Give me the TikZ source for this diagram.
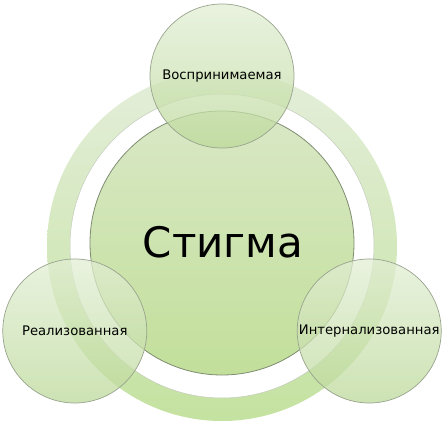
\documentclass[tikz,border=0pt]{standalone}
\usepackage{fontspec}
\setmainfont{DejaVu Sans}
\usetikzlibrary{calc}
\definecolor{ringlight}{HTML}{E4EEDA}
\definecolor{ringdark}{HTML}{C4E2A0}
\definecolor{kernlight}{HTML}{D9E8C6}
\definecolor{kerndark}{HTML}{C2DF9A}
\definecolor{satlight}{HTML}{E2EED4}
\definecolor{satdark}{HTML}{BCD99A}
\definecolor{rand}{HTML}{7E8C70}
\tikzset{
  kern/.style={circle,draw=rand,line width=0.8pt,top color=kernlight,bottom color=kerndark,
    minimum size=264pt,inner sep=0pt},
  satellit/.style={circle,draw=rand!80,line width=0.7pt,top color=satlight,bottom color=satdark,
    fill opacity=0.75,text opacity=1,minimum size=144pt,inner sep=0pt,
    font=\fontsize{13.2}{15}\selectfont}
}
\begin{document}
\begin{tikzpicture}[x=1pt,y=-1pt]
\useasboundingbox (0,0) rectangle (445,427);
\def\rmitte{170}
\coordinate (mitte) at (222,246);
% ring
\shade[top color=ringlight,bottom color=ringdark,even odd rule]
  (mitte) circle (175) (mitte) circle (152);
\draw[rand!45,line width=0.5pt] (mitte) circle (152);
% center
\node[kern] (stigma) at ($(mitte)+(0,-3)$) {};
\node (titel) at ($(mitte)+(1,-4)$) {\fontsize{42}{42}\selectfont Стигма};
% satellites
\node[satellit] (vospr) at ($(mitte)+(0,-\rmitte)$) {Воспринимаемая};
\node[satellit] (real) at ($(mitte)+({-\rmitte*cos(30)},{\rmitte*sin(30)})$) {Реализованная};
\node[satellit] (intern) at ($(mitte)+({\rmitte*cos(30)},{\rmitte*sin(30)})$) {Интернализованная};
\end{tikzpicture}
\end{document}
